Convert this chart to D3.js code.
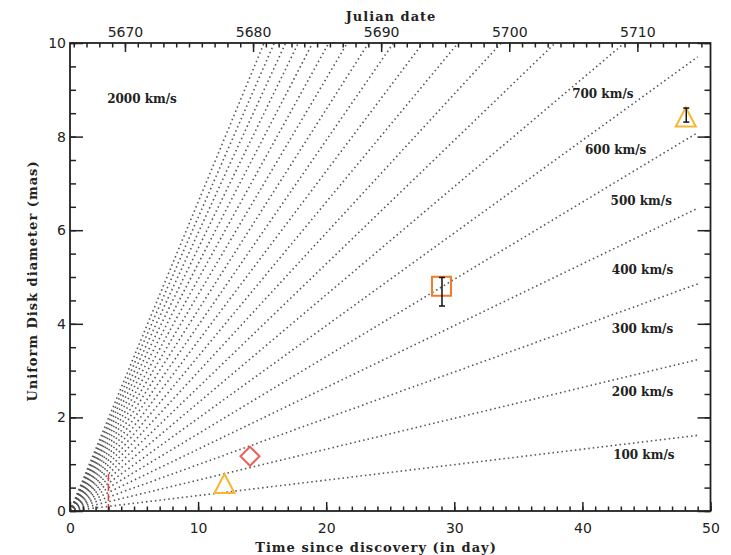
<!DOCTYPE html>
<html>
<head>
<meta charset="utf-8">
<script src="https://cdn.jsdelivr.net/npm/d3@7"></script>
<style>
  html, body { margin: 0; padding: 0; background: #fff; }
  svg { display: block; }
  .tick text { font-family: "DejaVu Sans", sans-serif; font-size: 14px; fill: #222; }
  .title { font-family: "DejaVu Serif", serif; font-weight: bold; font-size: 13px; fill: #222; letter-spacing: 1px; }
  .vlabel { font-family: "DejaVu Serif", serif; font-weight: bold; font-size: 12px; fill: #222; }
</style>
</head>
<body>
<script>
// Expansion velocities of the model lines (km/s)
const velocities = [100, 200, 300, 400, 500, 600, 700, 800, 900, 1000,
                    1100, 1200, 1300, 1400, 1500, 1600, 1700, 1800, 1900, 2000];
// Velocities that carry a text label
const labelledVelocities = [100, 200, 300, 400, 500, 600, 700, 2000];
// Assumed distance (pc) and day of discovery (JD - 2450000)
const distancePc = 3500;
const discoveryJD = 5665.71;
// Time span covered by the model lines (days)
const lineEndDay = 49;

// Measured uniform-disk diameters
const obsDay  = [12.06, 14.05, 29.0, 48.07];
const obsDiam = [0.52, 1.17, 4.80, 8.35];
const obsErrLow  = [null, null, 4.38, 8.31];
const obsErrHigh = [null, null, 4.99, 8.61];
const obsKind = ["triangle", "diamond", "square", "triangle"];

// Early epoch marker (days since discovery) and its height (mas)
const earlyEpochDay = 3.0;
const earlyEpochTop = 0.85;

// Axis ticks
const xMajor = [0, 10, 20, 30, 40, 50];
const yMajor = [0, 2, 4, 6, 8, 10];
const jdMajor = [5670, 5680, 5690, 5700, 5710];

const W = 731, H = 555;
const margin = { left: 70, right: 20.5, top: 43, bottom: 44 };
const iw = W - margin.left - margin.right;
const ih = H - margin.top - margin.bottom;

const svg = d3.select("body").append("svg").attr("width", W).attr("height", H);
const g = svg.append("g").attr("transform", `translate(${margin.left},${margin.top})`);

const x = d3.scaleLinear().domain([0, 50]).range([0, iw]);
const y = d3.scaleLinear().domain([0, 10]).range([ih, 0]);
const xJD = d3.scaleLinear().domain([discoveryJD, discoveryJD + 50]).range([0, iw]);

// angular diameter (mas) reached after t days at velocity v (km/s)
const AU_KM = 1.495978707e8;
function diameterMas(v, t) {
  const au = 2 * v * t * 86400 / AU_KM;
  return au / distancePc * 1000;
}

svg.append("defs").append("clipPath").attr("id", "plotclip")
  .append("rect").attr("width", iw).attr("height", ih);

// Model lines
const lines = g.append("g").attr("clip-path", "url(#plotclip)");
velocities.forEach(v => {
  const slope = diameterMas(v, 1);
  const tEnd = Math.min(lineEndDay, 10 / slope);
  lines.append("line")
    .attr("x1", x(0)).attr("y1", y(0))
    .attr("x2", x(tEnd)).attr("y2", y(slope * tEnd))
    .attr("stroke", "#555")
    .attr("stroke-width", 1.6)
    .attr("stroke-dasharray", "1.5 3.0");
});

// Velocity labels (anchor in data units: day, mas)
const labelAnchor = {
  2000: [2.9, 8.72], 700: [39.2, 8.82], 600: [40.2, 7.62], 500: [42.2, 6.53],
  400: [42.3, 5.06], 300: [42.3, 3.80], 200: [42.3, 2.46], 100: [42.4, 1.12]
};
labelledVelocities.forEach(v => {
  const [t, d] = labelAnchor[v];
  g.append("text").attr("class", "vlabel")
    .attr("x", x(t)).attr("y", y(d))
    .text(v + " km/s");
});

// Early epoch marker
g.append("line")
  .attr("x1", x(earlyEpochDay)).attr("x2", x(earlyEpochDay))
  .attr("y1", y(0)).attr("y2", y(earlyEpochTop))
  .attr("stroke", "#e8483c").attr("stroke-width", 1.6)
  .attr("stroke-dasharray", "7 3");

// Observations
const markerStyle = {
  triangle: { stroke: "#f6b630" },
  diamond: { stroke: "#ef5f5a" },
  square: { stroke: "#f07c2c" }
};
function markerPath(kind) {
  if (kind === "triangle") {
    const w = 20, h = 19;
    return `M0,${-2 * h / 3}L${w / 2},${h / 3}L${-w / 2},${h / 3}Z`;
  }
  if (kind === "diamond") {
    const r = 9.5;
    return `M0,${-r}L${r},0L0,${r}L${-r},0Z`;
  }
  const s = 9.5;
  return `M${-s},${-s}H${s}V${s}H${-s}Z`;
}
const obs = g.append("g");
obsDay.forEach((t, i) => {
  const kind = obsKind[i];
  obs.append("path")
    .attr("d", markerPath(kind))
    .attr("transform", `translate(${x(t)},${y(obsDiam[i])})`)
    .attr("fill", "none")
    .attr("stroke", markerStyle[kind].stroke)
    .attr("stroke-width", 2)
    .attr("stroke-linejoin", "miter");
  if (obsErrLow[i] !== null) {
    const cx = x(t) + 0.5, cap = 3;
    const eb = obs.append("g").attr("stroke", "#111").attr("stroke-width", 1.5);
    eb.append("line").attr("x1", cx).attr("x2", cx)
      .attr("y1", y(obsErrLow[i])).attr("y2", y(obsErrHigh[i]));
    eb.append("line").attr("x1", cx - cap).attr("x2", cx + cap)
      .attr("y1", y(obsErrLow[i])).attr("y2", y(obsErrLow[i]));
    eb.append("line").attr("x1", cx - cap).attr("x2", cx + cap)
      .attr("y1", y(obsErrHigh[i])).attr("y2", y(obsErrHigh[i]));
  }
});

// Axes (ticks drawn inward)
function styleAxis(sel) {
  sel.select(".domain").remove();
  sel.selectAll(".tick line").attr("stroke", "#222").attr("stroke-width", 1.5);
}
const xMinor = d3.range(0, 51, 1);
const yMinor = d3.range(0, 10.01, 0.5);
const jdMinor = d3.range(5666, 5716, 1);

g.append("g").attr("transform", `translate(0,${ih})`)
  .call(d3.axisBottom(x).tickValues(xMinor).tickSize(-4.5).tickFormat(""))
  .call(styleAxis);
g.append("g").attr("transform", `translate(0,${ih})`)
  .call(d3.axisBottom(x).tickValues(xMajor).tickSize(-9).tickPadding(12).tickFormat(d3.format("d")))
  .call(styleAxis);

g.append("g")
  .call(d3.axisTop(xJD).tickValues(jdMinor).tickSize(-4.5).tickFormat(""))
  .call(styleAxis);
g.append("g")
  .call(d3.axisTop(xJD).tickValues(jdMajor).tickSize(-9).tickPadding(6).tickFormat(d3.format("d")))
  .call(styleAxis);

g.append("g")
  .call(d3.axisLeft(y).tickValues(yMinor).tickSize(-6).tickFormat(""))
  .call(styleAxis);
g.append("g")
  .call(d3.axisLeft(y).tickValues(yMajor).tickSize(-13).tickPadding(4).tickFormat(d3.format("d")))
  .call(styleAxis);

g.append("g").attr("transform", `translate(${iw},0)`)
  .call(d3.axisRight(y).tickValues(yMinor).tickSize(-6).tickFormat(""))
  .call(styleAxis);
g.append("g").attr("transform", `translate(${iw},0)`)
  .call(d3.axisRight(y).tickValues(yMajor).tickSize(-13).tickFormat(""))
  .call(styleAxis);

// Frame
g.append("rect").attr("width", iw).attr("height", ih)
  .attr("fill", "none").attr("stroke", "#222").attr("stroke-width", 1.8);

// Titles
svg.append("text").attr("class", "title")
  .attr("x", 391).attr("y", 21).attr("text-anchor", "middle")
  .text("Julian date");
svg.append("text").attr("class", "title")
  .attr("x", 376).attr("y", 552).attr("text-anchor", "middle")
  .text("Time since discovery (in day)");
svg.append("text").attr("class", "title")
  .attr("transform", "translate(37,281) rotate(-90)")
  .attr("text-anchor", "middle")
  .text("Uniform Disk diameter (mas)");
</script>
</body>
</html>
